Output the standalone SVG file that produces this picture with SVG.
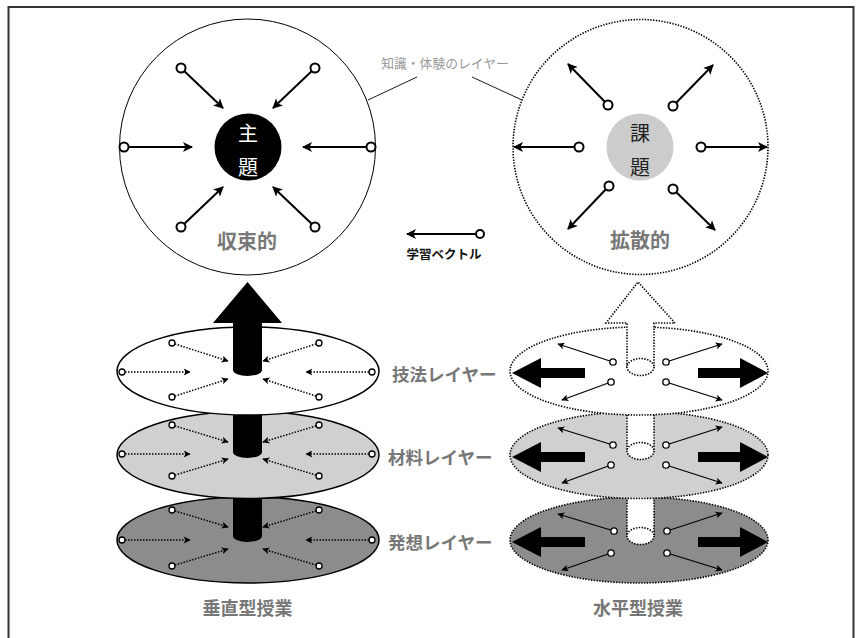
<svg xmlns="http://www.w3.org/2000/svg" width="858" height="638" viewBox="0 0 858 638">
<style>
  .jp { font-family: "Noto Sans CJK JP", "Noto Sans", sans-serif; }
  .lbl { font-weight: 700; fill: #777; }
  .vec { stroke: #000; stroke-width: 2; fill: none; }
  .vecs { stroke: #000; stroke-width: 1.3; fill: none; }
  .dotv { stroke: #000; stroke-width: 1.5; stroke-dasharray: 1.5 1.5; fill: none; }
  .dotb { stroke: #000; stroke-width: 1.6; stroke-dasharray: 1.4 1.4; }
  .knob { fill: #fff; stroke: #000; stroke-width: 2; }
  .knobs { fill: #fff; stroke: #000; stroke-width: 1.3; }
  .plate { stroke: #000; stroke-width: 1.5; }
</style>
<defs>
  <marker id="ah" viewBox="0 0 10 10" refX="9" refY="5" markerUnits="userSpaceOnUse" markerWidth="12" markerHeight="10" orient="auto">
    <path d="M0,0 L10,5 L0,10 L2.5,5 z" fill="#000"/>
  </marker>
  <marker id="as" viewBox="0 0 10 10" refX="9" refY="5" markerUnits="userSpaceOnUse" markerWidth="9" markerHeight="7" orient="auto">
    <path d="M0,0 L10,5 L0,10 L2.5,5 z" fill="#000"/>
  </marker>
</defs>

<rect id="frame" x="8.5" y="7" width="845" height="700" fill="#fff" stroke="#333" stroke-width="2"/>

<g id="node-converge">
  <circle cx="247.5" cy="147" r="128" fill="#fff" stroke="#000" stroke-width="1"/>
  <circle cx="248" cy="147" r="33.5" fill="#000"/>
  <text class="jp" x="248" y="132" font-size="20" fill="#fff" text-anchor="middle" dominant-baseline="central">主</text>
  <text class="jp" x="248" y="166" font-size="20" fill="#fff" text-anchor="middle" dominant-baseline="central">題</text>
  <text class="jp lbl" x="247" y="240" font-size="20" text-anchor="middle" dominant-baseline="central">収束的</text>
</g>

<g id="node-diverge">
  <circle cx="640.5" cy="147" r="127.5" fill="#fff" class="dotb" fill-opacity="1"/>
  <circle cx="640" cy="147" r="33.5" fill="#cccccc"/>
  <text class="jp" x="640" y="132" font-size="20" fill="#222" text-anchor="middle" dominant-baseline="central">課</text>
  <text class="jp" x="640" y="166" font-size="20" fill="#222" text-anchor="middle" dominant-baseline="central">題</text>
  <text class="jp lbl" x="640" y="239" font-size="20" text-anchor="middle" dominant-baseline="central">拡散的</text>
</g>

<g id="label-knowledge">
  <text class="jp" x="445" y="62" font-size="12.8" fill="#999" text-anchor="middle" dominant-baseline="central">知識・体験のレイヤー</text>
  <line x1="368" y1="100" x2="417" y2="77" stroke="#000" stroke-width="0.9"/>
  <line x1="472" y1="77" x2="522" y2="100" stroke="#000" stroke-width="0.9"/>
</g>

<g id="legend">
  <line class="vec" x1="480" y1="234" x2="407" y2="234" marker-end="url(#ah)"/>
  <circle class="knob" cx="480" cy="234" r="4"/>
  <text class="jp" x="444" y="253" font-size="12.5" font-weight="700" fill="#111" text-anchor="middle" dominant-baseline="central">学習ベクトル</text>
</g>

<!-- Vertical stack -->
<g id="v-layer-idea">
  <ellipse class="plate" cx="248" cy="540" rx="131" ry="43" fill="#8c8c8c"/>
  <rect x="233" y="480" width="29" height="56" fill="#000"/>
  <ellipse cx="247.5" cy="536" rx="14.5" ry="6" fill="#000"/>
</g>
<g id="v-layer-material">
  <ellipse class="plate" cx="248" cy="455" rx="131" ry="43.5" fill="#d0d0d0"/>
  <rect x="233" y="395" width="29" height="57" fill="#000"/>
  <ellipse cx="247.5" cy="452" rx="14.5" ry="6" fill="#000"/>
</g>
<g id="v-layer-technique">
  <ellipse class="plate" cx="248" cy="371" rx="131" ry="44" fill="#fff"/>
  <path d="M233,323 L213,323 L247.5,282 L282,323 L262,323 L262,370 L233,370 Z" fill="#000"/>
  <ellipse cx="247.5" cy="370" rx="14.5" ry="6" fill="#000"/>
</g>

<!-- Horizontal stack -->
<g id="h-layer-idea">
  <ellipse class="dotb" cx="639" cy="540" rx="129" ry="43" fill="#8c8c8c"/>
  <rect x="627" y="480" width="27" height="56" fill="#fff"/>
  <line class="dotb" x1="627" y1="497" x2="627" y2="536"/>
  <line class="dotb" x1="654" y1="497" x2="654" y2="536"/>
  <ellipse class="dotb" cx="640.5" cy="536" rx="13.5" ry="8.5" fill="#fff"/>
  <path d="M512,542 L541,527 L541,537 L585,537 L585,547 L541,547 L541,557 Z" fill="#000"/>
  <path d="M768,542 L740,527 L740,537 L698,537 L698,547 L740,547 L740,557 Z" fill="#000"/>
</g>
<g id="h-layer-material">
  <ellipse class="dotb" cx="639" cy="455" rx="129" ry="43.5" fill="#d0d0d0"/>
  <rect x="627" y="395" width="27" height="56" fill="#fff"/>
  <line class="dotb" x1="627" y1="412" x2="627" y2="451"/>
  <line class="dotb" x1="654" y1="412" x2="654" y2="451"/>
  <ellipse class="dotb" cx="640.5" cy="451" rx="13.5" ry="8.5" fill="#fff"/>
  <path d="M512,457 L541,442 L541,452 L585,452 L585,462 L541,462 L541,472 Z" fill="#000"/>
  <path d="M768,457 L740,442 L740,452 L698,452 L698,462 L740,462 L740,472 Z" fill="#000"/>
</g>
<g id="h-layer-technique">
  <ellipse class="dotb" cx="639" cy="371" rx="129" ry="44" fill="#fff"/>
  <path class="dotb" d="M627,367 L627,323 L606,323 L638,282 L675,323 L654,323 L654,367" fill="#fff"/>
  <ellipse class="dotb" cx="640.5" cy="367" rx="13.5" ry="8.5" fill="#fff"/>
  <path d="M512,373 L541,358 L541,368 L585,368 L585,378 L541,378 L541,388 Z" fill="#000"/>
  <path d="M768,373 L740,358 L740,368 L698,368 L698,378 L740,378 L740,388 Z" fill="#000"/>
</g>

<g id="layer-labels">
  <text class="jp lbl" x="392" y="373" font-size="17.5" dominant-baseline="central">技法レイヤー</text>
  <text class="jp lbl" x="388" y="456" font-size="17.5" dominant-baseline="central">材料レイヤー</text>
  <text class="jp lbl" x="388" y="541" font-size="17.5" dominant-baseline="central">発想レイヤー</text>
  <text class="jp lbl" x="247.5" y="607" font-size="18" text-anchor="middle" dominant-baseline="central">垂直型授業</text>
  <text class="jp lbl" x="638" y="607" font-size="18" text-anchor="middle" dominant-baseline="central">水平型授業</text>
</g>

<g id="connectors">
  <!-- converge circle -->
  <line class="vec" x1="181" y1="68" x2="223" y2="108" marker-end="url(#ah)"/>
  <line class="vec" x1="315" y1="68" x2="273" y2="108" marker-end="url(#ah)"/>
  <line class="vec" x1="124" y1="147" x2="192" y2="147" marker-end="url(#ah)"/>
  <line class="vec" x1="371" y1="147" x2="303" y2="147" marker-end="url(#ah)"/>
  <line class="vec" x1="181" y1="227" x2="223" y2="187" marker-end="url(#ah)"/>
  <line class="vec" x1="315" y1="227" x2="273" y2="187" marker-end="url(#ah)"/>
  <circle class="knob" cx="181" cy="68" r="4.5"/>
  <circle class="knob" cx="315" cy="68" r="4.5"/>
  <circle class="knob" cx="124" cy="147" r="4.5"/>
  <circle class="knob" cx="371" cy="147" r="4.5"/>
  <circle class="knob" cx="181" cy="227" r="4.5"/>
  <circle class="knob" cx="315" cy="227" r="4.5"/>
  <!-- diverge circle -->
  <line class="vec" x1="608" y1="105" x2="568" y2="64" marker-end="url(#ah)"/>
  <line class="vec" x1="673" y1="106" x2="713" y2="65" marker-end="url(#ah)"/>
  <line class="vec" x1="579" y1="147" x2="514" y2="147" marker-end="url(#ah)"/>
  <line class="vec" x1="701" y1="147" x2="767" y2="147" marker-end="url(#ah)"/>
  <line class="vec" x1="609" y1="186" x2="568" y2="229" marker-end="url(#ah)"/>
  <line class="vec" x1="673" y1="189" x2="715" y2="230" marker-end="url(#ah)"/>
  <circle class="knob" cx="608" cy="105" r="4.5"/>
  <circle class="knob" cx="673" cy="106" r="4.5"/>
  <circle class="knob" cx="579" cy="147" r="4.5"/>
  <circle class="knob" cx="701" cy="147" r="4.5"/>
  <circle class="knob" cx="609" cy="186" r="4.5"/>
  <circle class="knob" cx="673" cy="189" r="4.5"/>

  <!-- vertical stack dotted vectors: technique (cy 371) -->
  <g>
    <line class="dotv" x1="172" y1="343" x2="228" y2="361" marker-end="url(#as)"/>
    <line class="dotv" x1="122" y1="372" x2="190" y2="372" marker-end="url(#as)"/>
    <line class="dotv" x1="172" y1="397" x2="228" y2="379" marker-end="url(#as)"/>
    <line class="dotv" x1="319" y1="343" x2="263" y2="361" marker-end="url(#as)"/>
    <line class="dotv" x1="372" y1="372" x2="306" y2="372" marker-end="url(#as)"/>
    <line class="dotv" x1="319" y1="397" x2="263" y2="379" marker-end="url(#as)"/>
    <circle class="knobs" cx="172" cy="343" r="3"/>
    <circle class="knobs" cx="122" cy="372" r="3"/>
    <circle class="knobs" cx="172" cy="397" r="3"/>
    <circle class="knobs" cx="319" cy="343" r="3"/>
    <circle class="knobs" cx="372" cy="372" r="3"/>
    <circle class="knobs" cx="319" cy="397" r="3"/>
  </g>
  <!-- material (cy 455) -->
  <g>
    <line class="dotv" x1="172" y1="425" x2="228" y2="442" marker-end="url(#as)"/>
    <line class="dotv" x1="122" y1="454" x2="190" y2="454" marker-end="url(#as)"/>
    <line class="dotv" x1="172" y1="476" x2="228" y2="459" marker-end="url(#as)"/>
    <line class="dotv" x1="319" y1="425" x2="263" y2="442" marker-end="url(#as)"/>
    <line class="dotv" x1="372" y1="454" x2="306" y2="454" marker-end="url(#as)"/>
    <line class="dotv" x1="319" y1="476" x2="263" y2="459" marker-end="url(#as)"/>
    <circle class="knobs" cx="172" cy="425" r="3"/>
    <circle class="knobs" cx="122" cy="454" r="3"/>
    <circle class="knobs" cx="172" cy="476" r="3"/>
    <circle class="knobs" cx="319" cy="425" r="3"/>
    <circle class="knobs" cx="372" cy="454" r="3"/>
    <circle class="knobs" cx="319" cy="476" r="3"/>
  </g>
  <!-- idea (cy 540) -->
  <g>
    <line class="dotv" x1="172" y1="510" x2="228" y2="527" marker-end="url(#as)"/>
    <line class="dotv" x1="122" y1="540" x2="190" y2="540" marker-end="url(#as)"/>
    <line class="dotv" x1="172" y1="566" x2="228" y2="549" marker-end="url(#as)"/>
    <line class="dotv" x1="319" y1="510" x2="263" y2="527" marker-end="url(#as)"/>
    <line class="dotv" x1="372" y1="540" x2="306" y2="540" marker-end="url(#as)"/>
    <line class="dotv" x1="319" y1="566" x2="263" y2="549" marker-end="url(#as)"/>
    <circle class="knobs" cx="172" cy="510" r="3"/>
    <circle class="knobs" cx="122" cy="540" r="3"/>
    <circle class="knobs" cx="172" cy="566" r="3"/>
    <circle class="knobs" cx="319" cy="510" r="3"/>
    <circle class="knobs" cx="372" cy="540" r="3"/>
    <circle class="knobs" cx="319" cy="566" r="3"/>
  </g>

  <!-- horizontal stack vectors -->
  <g>
    <line class="vecs" x1="613" y1="362" x2="558" y2="344" marker-end="url(#as)"/>
    <line class="vecs" x1="611" y1="382" x2="562" y2="400" marker-end="url(#as)"/>
    <line class="vecs" x1="666" y1="362" x2="722" y2="344" marker-end="url(#as)"/>
    <line class="vecs" x1="666" y1="382" x2="722" y2="400" marker-end="url(#as)"/>
    <circle class="knobs" cx="613" cy="362" r="3.2"/>
    <circle class="knobs" cx="611" cy="382" r="3.2"/>
    <circle class="knobs" cx="666" cy="362" r="3.2"/>
    <circle class="knobs" cx="666" cy="382" r="3.2"/>
  </g>
  <g>
    <line class="vecs" x1="613" y1="445" x2="558" y2="428" marker-end="url(#as)"/>
    <line class="vecs" x1="611" y1="465" x2="562" y2="483" marker-end="url(#as)"/>
    <line class="vecs" x1="666" y1="445" x2="722" y2="427" marker-end="url(#as)"/>
    <line class="vecs" x1="666" y1="465" x2="722" y2="483" marker-end="url(#as)"/>
    <circle class="knobs" cx="613" cy="445" r="3.2"/>
    <circle class="knobs" cx="611" cy="465" r="3.2"/>
    <circle class="knobs" cx="666" cy="445" r="3.2"/>
    <circle class="knobs" cx="666" cy="465" r="3.2"/>
  </g>
  <g>
    <line class="vecs" x1="614" y1="531" x2="558" y2="514" marker-end="url(#as)"/>
    <line class="vecs" x1="611" y1="553" x2="562" y2="570" marker-end="url(#as)"/>
    <line class="vecs" x1="667" y1="531" x2="722" y2="513" marker-end="url(#as)"/>
    <line class="vecs" x1="667" y1="553" x2="722" y2="570" marker-end="url(#as)"/>
    <circle class="knobs" cx="614" cy="531" r="3.2"/>
    <circle class="knobs" cx="611" cy="553" r="3.2"/>
    <circle class="knobs" cx="667" cy="531" r="3.2"/>
    <circle class="knobs" cx="667" cy="553" r="3.2"/>
  </g>
</g>
</svg>
